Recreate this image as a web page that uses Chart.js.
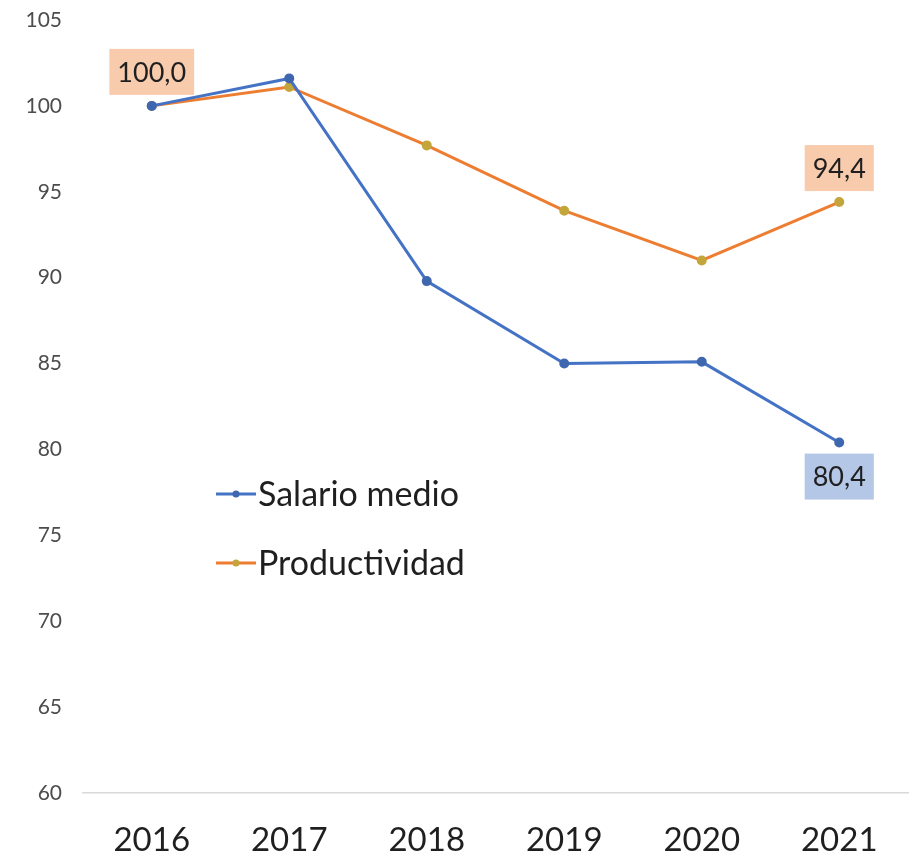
<!DOCTYPE html>
<html>
<head>
<meta charset="utf-8">
<script src="https://cdn.jsdelivr.net/npm/chart.js@4"></script>
<style>
  html, body { margin: 0; padding: 0; background: #fff; }
  #wrap { width: 910px; height: 856px; }
</style>
</head>
<body>
<div id="wrap"><canvas id="chart" width="910" height="856"></canvas></div>
<script>
const years = ['2016', '2017', '2018', '2019', '2020', '2021'];
const salario = [100.0, 101.6, 89.8, 85.0, 85.1, 80.4];
const productividad = [100.0, 101.1, 97.7, 93.9, 91.0, 94.4];
const yTicks = [60, 65, 70, 75, 80, 85, 90, 95, 100, 105];

// which points carry a value box: [datasetIndex, pointIndex, 'above' | 'below']
const labelled = [[1, 0, 'above'], [1, 5, 'above'], [0, 5, 'below']];

const FONT = 'Lato, "Open Sans", sans-serif';

const valueBoxes = {
    id: 'valueBoxes',
    afterDatasetsDraw(chart) {
        const ctx = chart.ctx;
        ctx.save();
        ctx.font = '27px ' + FONT;
        ctx.textAlign = 'center';
        ctx.textBaseline = 'middle';
        labelled.forEach(([di, pi, side]) => {
            const ds = chart.data.datasets[di];
            const pt = chart.getDatasetMeta(di).data[pi];
            const txt = ds.data[pi].toFixed(1).replace('.', ',');
            const w = ctx.measureText(txt).width + 16;
            const h = 46;
            const cy = side === 'above' ? pt.y - 11 - h / 2 : pt.y + 11 + h / 2;
            ctx.fillStyle = ds.boxColor;
            ctx.fillRect(pt.x - w / 2, cy - h / 2, w, h);
            ctx.fillStyle = '#1f1f1f';
            ctx.fillText(txt, pt.x, cy + 1);
        });
        ctx.restore();
    }
};

// legend sits inside the plot, left-centre
const innerLegend = {
    id: 'innerLegend',
    afterDraw(chart) {
        const ctx = chart.ctx;
        ctx.save();
        ctx.font = '34px ' + FONT;
        ctx.textBaseline = 'middle';
        ctx.textAlign = 'left';
        chart.data.datasets.forEach((ds, i) => {
            const y = 494 + i * 69;
            ctx.strokeStyle = ds.borderColor;
            ctx.lineWidth = 3;
            ctx.beginPath();
            ctx.moveTo(216, y);
            ctx.lineTo(256, y);
            ctx.stroke();
            ctx.fillStyle = ds.pointBackgroundColor;
            ctx.beginPath();
            ctx.arc(236, y, 3.5, 0, Math.PI * 2);
            ctx.fill();
            ctx.fillStyle = '#1f1f1f';
            ctx.fillText(ds.label, 258, y + 1);
        });
        ctx.restore();
    }
};

new Chart(document.getElementById('chart').getContext('2d'), {
    type: 'line',
    data: {
        labels: years,
        datasets: [
            { label: 'Salario medio', data: salario, borderColor: '#4472C4', borderWidth: 3,
              pointBackgroundColor: '#3F67B0', pointBorderColor: '#3F67B0', pointRadius: 3.5,
              boxColor: '#B4C7E7', tension: 0 },
            { label: 'Productividad', data: productividad, borderColor: '#ED7D31', borderWidth: 3,
              pointBackgroundColor: '#C4A53C', pointBorderColor: '#C4A53C', pointRadius: 3.5,
              boxColor: '#F8CBAD', tension: 0 },
        ],
    },
    options: {
        responsive: false,
        animation: false,
        layout: { autoPadding: false, padding: { top: 20, right: 2, left: 0, bottom: 0 } },
        plugins: { legend: { display: false }, tooltip: { enabled: false } },
        scales: {
            x: {
                offset: true,
                grid: { display: false, drawTicks: false },
                border: { display: true, color: '#D9D9D9', width: 1.5 },
                ticks: { color: '#1f1f1f', font: { family: FONT, size: 33 }, padding: 28 },
                // fixed band height, no extra side padding from the tick labels
                afterFit: s => { s.height = 63; s.paddingLeft = 0; s.paddingRight = 0; },
            },
            y: {
                min: 60, max: 105,
                afterBuildTicks: s => { s.ticks = yTicks.map(v => ({ value: v })); },
                grid: { display: false, drawTicks: false },
                border: { display: false },
                ticks: { color: '#4d4d4d', font: { family: FONT, size: 21 }, padding: 21 },
                afterFit: s => { s.width = 83; s.paddingTop = 0; s.paddingBottom = 0; },
            },
        },
    },
    plugins: [valueBoxes, innerLegend],
});
</script>
</body>
</html>
